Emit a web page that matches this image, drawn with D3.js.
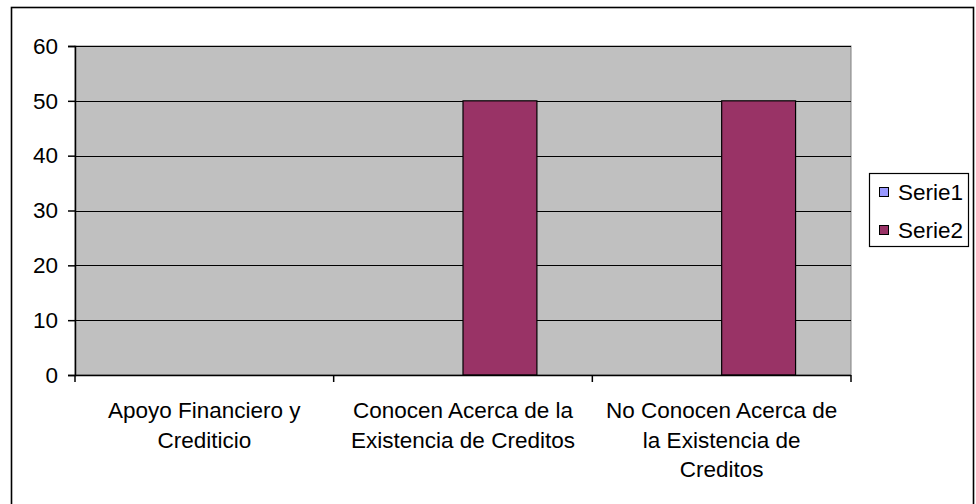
<!DOCTYPE html>
<html><head><meta charset="utf-8">
<script src="https://cdn.jsdelivr.net/npm/d3@7"></script>
<style>body{margin:0;background:#fff}svg{display:block;font-family:"Liberation Sans",Arial,sans-serif}</style>
</head><body>
<svg id="c" width="976" height="504"></svg>
<script>
const categories = [
  ["Apoyo Financiero y","Crediticio"],
  ["Conocen Acerca de la","Existencia de Creditos"],
  ["No Conocen Acerca de","la Existencia de","Creditos"]
];
const seriesNames = ["Serie1","Serie2"];
const serie1 = [0, 0, 0];
const serie2 = [0, 50, 50];
const yTicks = [0,10,20,30,40,50,60];
const colors = ["#9999FF","#993366"];

const svg = d3.select("#c");
const L = 75, R = 851, T = 46, B = 375;
const fs = 22.5;

svg.append("rect").attr("x",11.5).attr("y",7.5).attr("width",962).attr("height",510)
  .attr("fill","#fff").attr("stroke","#000").attr("stroke-width",1.6);

const x0 = d3.scaleBand().domain(d3.range(categories.length)).range([L,R]).paddingInner(0).paddingOuter(0);
const y = d3.scaleLinear().domain([0,60]).range([B,T]);
const bw = x0.bandwidth()/3.5;
const x1 = d3.scaleBand().domain([0,1]).range([0, bw*2]);

svg.append("rect").attr("x",L).attr("y",T).attr("width",R-L).attr("height",B-T)
  .attr("fill","#C0C0C0").attr("stroke","#808080").attr("stroke-width",1);

svg.append("g").selectAll("line").data(yTicks.filter(d=>d>0)).join("line")
  .attr("x1",L).attr("x2",R).attr("y1",d=>Math.round(y(d))+0.5).attr("y2",d=>Math.round(y(d))+0.5)
  .attr("stroke","#000").attr("stroke-width",1.2);

const data = [serie1, serie2];
categories.forEach((c,i)=>{
  data.forEach((s,j)=>{
    const v = s[i];
    if (v>0) {
      svg.append("rect")
        .attr("x", x0(i) + x0.bandwidth()/2 - bw + x1(j))
        .attr("y", y(v)).attr("width", x1.bandwidth()).attr("height", y(0)-y(v))
        .attr("fill", colors[j]).attr("stroke","#000").attr("stroke-width",1.2);
    }
  });
});

// axes
const yAxis = d3.axisLeft(y).tickValues(yTicks).tickSize(7).tickPadding(10);
const gy = svg.append("g").attr("transform",`translate(${L},0)`).call(yAxis);
gy.select(".domain").attr("stroke","#000").attr("stroke-width",1.5);
gy.selectAll(".tick line").attr("stroke","#000").attr("stroke-width",1.5);
gy.selectAll(".tick text").attr("font-size",fs).attr("fill","#000").attr("font-family","Liberation Sans, Arial, sans-serif");

svg.append("line").attr("x1",L).attr("x2",R).attr("y1",B+0.5).attr("y2",B+0.5).attr("stroke","#000").attr("stroke-width",1.5);
const ticksX = d3.range(categories.length+1).map(i=> i<categories.length ? x0(i) : R);
svg.append("g").selectAll("line").data(ticksX).join("line")
  .attr("x1",d=>d).attr("x2",d=>d).attr("y1",B).attr("y2",B+7)
  .attr("stroke","#000").attr("stroke-width",1.5);

categories.forEach((lines,i)=>{
  const t = svg.append("text").attr("text-anchor","middle").attr("font-size",fs).attr("fill","#000");
  lines.forEach((ln,k)=>{
    t.append("tspan").attr("x", x0(i)+x0.bandwidth()/2).attr("y", 418 + k*29.5).text(ln);
  });
});

// legend
const lg = svg.append("g");
lg.append("rect").attr("x",869.5).attr("y",173.5).attr("width",99).attr("height",73)
  .attr("fill","#fff").attr("stroke","#000").attr("stroke-width",1.2);
seriesNames.forEach((n,j)=>{
  const cy = 192 + j*38;
  lg.append("rect").attr("x",879.5).attr("y",cy-4.5).attr("width",9).attr("height",9)
    .attr("fill",colors[j]).attr("stroke","#000").attr("stroke-width",1);
  lg.append("text").attr("x",898).attr("y",cy+8).attr("font-size",fs).attr("fill","#000").text(n);
});
</script>
</body></html>
